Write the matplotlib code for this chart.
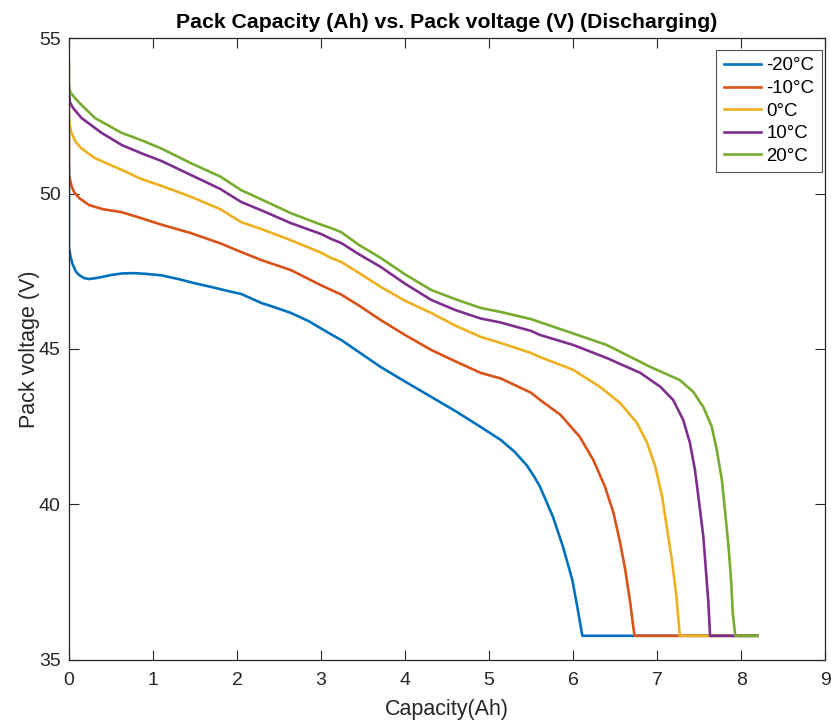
import matplotlib
matplotlib.use('Agg')
import matplotlib.pyplot as plt

plt.rcParams['font.family'] = ['Liberation Sans', 'DejaVu Sans']

# Capacity (Ah) / pack voltage (V) per temperature
x_m20 = [0, 0, 0.02, 0.04, 0.08, 0.12, 0.18, 0.24, 0.32, 0.4, 0.5, 0.63, 0.77, 0.9, 1.1, 1.3,
         1.49, 1.7, 1.9, 2.05, 2.29, 2.45, 2.64, 2.85, 3.0, 3.12, 3.24, 3.45, 3.71, 4.0, 4.31,
         4.6, 4.9, 5.14, 5.3, 5.45, 5.54, 5.607, 5.76, 5.88, 5.99, 6.05, 6.11, 8.19]
v_m20 = [50.9, 48.25, 47.95, 47.75, 47.5, 47.38, 47.28, 47.25, 47.28, 47.32, 47.38, 47.43,
         47.44, 47.42, 47.37, 47.25, 47.12, 46.99, 46.86, 46.77, 46.48, 46.34, 46.16, 45.9,
         45.66, 45.47, 45.29, 44.9, 44.42, 43.95, 43.46, 43.0, 42.49, 42.07, 41.7, 41.25,
         40.88, 40.56, 39.6, 38.63, 37.57, 36.7, 35.77, 35.77]

x_m10 = [0, 0, 0.03, 0.06, 0.12, 0.24, 0.4, 0.63, 0.86, 1.1, 1.45, 1.8, 2.05, 2.3, 2.64, 3.0,
         3.12, 3.24, 3.45, 3.71, 4.0, 4.31, 4.6, 4.9, 5.14, 5.5, 5.607, 5.85, 6.08, 6.24, 6.38,
         6.48, 6.56, 6.62, 6.68, 6.73, 8.19]
v_m10 = [52.43, 50.6, 50.25, 50.05, 49.86, 49.63, 49.5, 49.4, 49.21, 49.0, 48.73, 48.4, 48.12,
         47.85, 47.54, 47.05, 46.9, 46.75, 46.4, 45.93, 45.45, 44.97, 44.6, 44.23, 44.05, 43.59,
         43.36, 42.88, 42.17, 41.43, 40.56, 39.73, 38.76, 37.9, 36.83, 35.77, 35.77]

x_0 = [0, 0, 0.03, 0.08, 0.15, 0.31, 0.63, 0.86, 1.1, 1.45, 1.8, 2.05, 2.3, 2.64, 3.0, 3.12,
       3.24, 3.45, 3.71, 4.0, 4.31, 4.6, 4.9, 5.14, 5.5, 5.607, 6.0, 6.32, 6.56, 6.76, 6.88,
       6.98, 7.06, 7.12, 7.18, 7.23, 7.27, 8.19]
v_0 = [53.07, 52.3, 51.95, 51.66, 51.45, 51.14, 50.76, 50.47, 50.25, 49.9, 49.5, 49.08, 48.85,
       48.5, 48.1, 47.93, 47.8, 47.45, 47.0, 46.55, 46.16, 45.75, 45.39, 45.19, 44.87, 44.74,
       44.33, 43.78, 43.26, 42.62, 41.98, 41.2, 40.24, 39.18, 38.12, 37.03, 35.77, 35.77]

x_10 = [0, 0, 0.01, 0.05, 0.15, 0.39, 0.63, 0.86, 1.1, 1.45, 1.8, 2.05, 2.3, 2.64, 3.0, 3.12,
        3.24, 3.45, 3.71, 4.0, 4.31, 4.6, 4.9, 5.14, 5.5, 5.607, 6.0, 6.4, 6.8, 7.04, 7.19,
        7.31, 7.39, 7.45, 7.5, 7.55, 7.58, 7.61, 7.63, 8.19]
v_10 = [53.49, 53.3, 52.94, 52.75, 52.43, 51.95, 51.56, 51.3, 51.05, 50.6, 50.15, 49.73, 49.45,
        49.05, 48.7, 48.54, 48.41, 48.05, 47.64, 47.1, 46.58, 46.25, 45.98, 45.85, 45.58, 45.45,
        45.13, 44.71, 44.23, 43.78, 43.36, 42.72, 41.98, 41.11, 40.05, 38.96, 37.9, 36.83,
        35.77, 35.77]

x_20 = [0, 0, 0.02, 0.075, 0.15, 0.31, 0.63, 0.86, 1.1, 1.45, 1.8, 2.05, 2.3, 2.64, 3.0, 3.12,
        3.24, 3.45, 3.71, 4.0, 4.31, 4.6, 4.9, 5.14, 5.5, 5.88, 6.4, 6.92, 7.27, 7.43, 7.55,
        7.65, 7.71, 7.77, 7.81, 7.85, 7.88, 7.9, 7.93, 8.19]
v_20 = [54.2, 53.42, 53.25, 53.06, 52.85, 52.43, 51.95, 51.72, 51.45, 50.98, 50.55, 50.11, 49.8,
        49.37, 49.0, 48.89, 48.76, 48.35, 47.93, 47.4, 46.9, 46.6, 46.32, 46.19, 45.96, 45.61,
        45.13, 44.42, 44.0, 43.62, 43.13, 42.5, 41.75, 40.79, 39.73, 38.63, 37.57, 36.51,
        35.77, 35.77]

labels = ['-20°C', '-10°C', '0°C', '10°C', '20°C']
colors = ['#0072BD', '#D95319', '#EDB120', '#7E2F8E', '#77AC30']
xticks = list(range(0, 10))
yticks = [35, 40, 45, 50, 55]

series = [(x_m20, v_m20), (x_m10, v_m10), (x_0, v_0), (x_10, v_10), (x_20, v_20)]

fig = plt.figure(figsize=(8.31, 7.21), dpi=100)
ax = fig.add_axes([0.083, 0.085, 0.910, 0.862])

for (xs, vs), lab, col in zip(series, labels, colors):
    ax.plot(xs, vs, color=col, linewidth=1.9, label=lab, solid_joinstyle='round')

ax.set_xlim(0, 9)
ax.set_ylim(35, 55)
ax.set_xticks(xticks)
ax.set_yticks(yticks)
ax.tick_params(direction='in', top=True, right=True, length=7, width=0.8,
               labelsize=14, colors='#262626')
ax.tick_params(axis='x', pad=9)
ax.tick_params(axis='y', pad=6)
for sp in ax.spines.values():
    sp.set_color('#262626')
    sp.set_linewidth(0.9)

ax.set_xlabel('Capacity(Ah)', fontsize=15.5, color='#262626', labelpad=7)
ax.set_ylabel('Pack voltage (V)', fontsize=15.5, color='#262626', labelpad=-1)
ax.set_title('Pack Capacity (Ah) vs. Pack voltage (V) (Discharging)', fontsize=15.3,
             fontweight='bold', color='black', pad=7)

leg = ax.legend(loc='upper right', bbox_to_anchor=(822 / 831, 1 - 50 / 721),
                bbox_transform=fig.transFigure, borderaxespad=0,
                fontsize=13.4, frameon=True, fancybox=False,
                handlelength=2.0, handletextpad=0.3, labelspacing=0.3,
                borderpad=0.4)
leg.get_frame().set_edgecolor('#262626')
leg.get_frame().set_linewidth(0.8)

plt.savefig('out.png', dpi=100)
